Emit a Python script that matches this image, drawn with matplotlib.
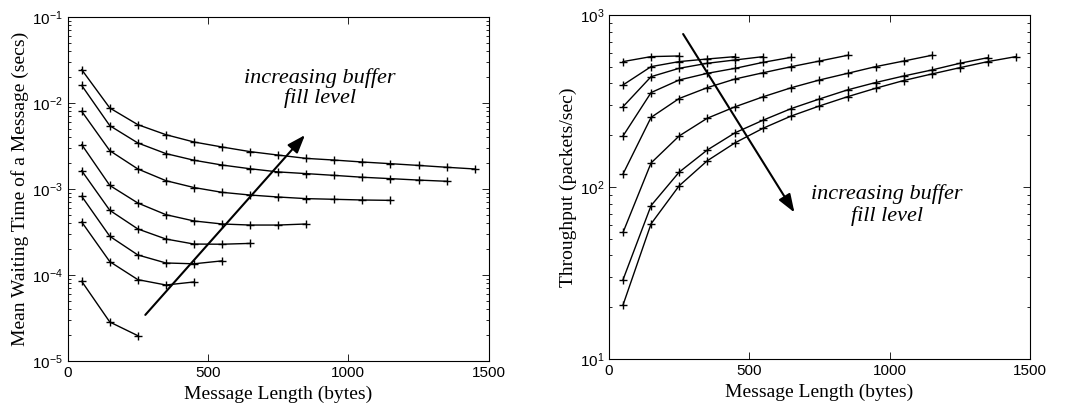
import matplotlib
matplotlib.use("Agg")
import matplotlib.pyplot as plt
from matplotlib.ticker import LogLocator, NullFormatter, FixedLocator
import numpy as np

# message lengths (bytes), one curve per buffer fill level
msg_len = [50, 150, 250, 350, 450, 550, 650, 750, 850, 950, 1050, 1150, 1250, 1350, 1450]

# mean waiting time (secs), curves from top to bottom
wait_1 = [0.0244, 0.00875, 0.0056, 0.00428, 0.00352, 0.00308, 0.00272, 0.00248,
          0.00227, 0.00217, 0.00206, 0.00197, 0.00188, 0.00179, 0.00171]
wait_2 = [0.0160, 0.00545, 0.00343, 0.00258, 0.00216, 0.0019, 0.00172, 0.00158,
          0.00151, 0.00144, 0.00137, 0.00132, 0.00127, 0.00123]
wait_3 = [0.0080, 0.00279, 0.00171, 0.00125, 0.00104, 0.000915, 0.000851, 0.000807,
          0.000773, 0.000759, 0.000745, 0.000738]
wait_4 = [0.00328, 0.0011, 0.000687, 0.000503, 0.000425, 0.000392, 0.000381, 0.000381, 0.000392]
wait_5 = [0.00163, 0.000565, 0.000343, 0.000262, 0.000229, 0.000228, 0.000233]
wait_6 = [0.000822, 0.000282, 0.000171, 0.000138, 0.000135, 0.000146]
wait_7 = [0.000413, 0.000143, 0.0000883, 0.0000765, 0.000083]
wait_8 = [0.0000844, 0.0000284, 0.0000197]
waits = [wait_1, wait_2, wait_3, wait_4, wait_5, wait_6, wait_7, wait_8]

# throughput (packets/sec), curves from top to bottom
thr_1 = [536, 573, 578]
thr_2 = [392, 501, 536, 555, 573]
thr_3 = [293, 438, 490, 524, 548, 573]
thr_4 = [198, 354, 419, 458, 490, 531, 568]
thr_5 = [119, 254, 327, 378, 425, 462, 501, 540, 583]
thr_6 = [54.4, 138, 198, 251, 293, 335, 378, 419, 458, 501, 540, 583]
thr_7 = [28.9, 78, 122, 164, 207, 245, 286, 325, 367, 405, 442, 479, 524, 565]
thr_8 = [20.6, 61.1, 101.6, 142, 181, 220, 259, 296, 335, 375, 416, 454, 494, 536, 573]
thrs = [thr_1, thr_2, thr_3, thr_4, thr_5, thr_6, thr_7, thr_8]

serif = "Liberation Serif"
sans = "Liberation Sans"

fig = plt.figure(figsize=(10.71, 4.08), dpi=100)
ax1 = fig.add_axes([0.0632, 0.1152, 0.3931, 0.8431])
ax2 = fig.add_axes([0.5686, 0.1201, 0.3931, 0.8431])

arrow = dict(arrowstyle="-|>,head_length=1.1,head_width=0.4", color="black", lw=1.5)


def style(ax, ylo, yhi):
    ax.set_yscale("log")
    ax.set_xlim(0, 1500)
    ax.set_ylim(ylo, yhi)
    ax.xaxis.set_major_locator(FixedLocator([0, 500, 1000, 1500]))
    ax.yaxis.set_major_locator(LogLocator(base=10))
    ax.yaxis.set_minor_locator(LogLocator(base=10, subs=np.arange(2, 10)))
    ax.yaxis.set_minor_formatter(NullFormatter())
    ax.tick_params(which="both", direction="in", top=True, right=True,
                   labelsize=11, width=0.6)
    ax.tick_params(which="major", length=5)
    ax.tick_params(which="minor", length=2.5)
    for lab in ax.get_xticklabels() + ax.get_yticklabels():
        lab.set_fontfamily(sans)
    for s in ax.spines.values():
        s.set_linewidth(0.8)
    ax.set_xlabel("Message Length (bytes)", fontfamily=serif, fontsize=14, labelpad=4)


for w in waits:
    ax1.plot(msg_len[:len(w)], w, color="black", lw=1.0, marker="+", ms=6, mew=1.0)
style(ax1, 1e-5, 1e-1)
ax1.set_ylabel("Mean Waiting Time of a Message (secs)", fontfamily=serif, fontsize=14, labelpad=2)
ax1.annotate("", xy=(852, 0.00448), xytext=(270, 3.25e-5), arrowprops=arrow)
ax1.text(899, 0.0195, "increasing buffer", fontfamily=serif, style="italic", fontsize=16, ha="center", va="center")
ax1.text(899, 0.0114, "fill level", fontfamily=serif, style="italic", fontsize=16, ha="center", va="center")

for t in thrs:
    ax2.plot(msg_len[:len(t)], t, color="black", lw=1.0, marker="+", ms=6, mew=1.0)
style(ax2, 10, 1000)
ax2.set_ylabel("Throughput (packets/sec)", fontfamily=serif, fontsize=14, labelpad=2)
ax2.annotate("", xy=(666, 68.9), xytext=(259, 800), arrowprops=arrow)
ax2.text(989, 90.8, "increasing buffer", fontfamily=serif, style="italic", fontsize=16, ha="center", va="center")
ax2.text(989, 67.5, "fill level", fontfamily=serif, style="italic", fontsize=16, ha="center", va="center")

fig.savefig("out.png", dpi=100)
